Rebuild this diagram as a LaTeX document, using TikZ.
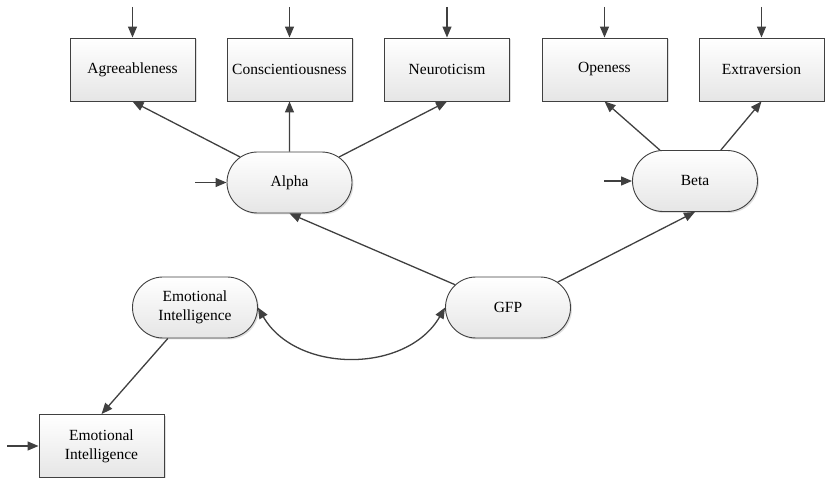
\documentclass[tikz,border=0pt]{standalone}
\usepackage{fontspec}
\setmainfont{Liberation Serif}
\usetikzlibrary{arrows.meta,shapes.misc,shadows}

\tikzset{
	trait/.style={draw=black!75, line width=0.9pt, rectangle, minimum width=125pt, minimum height=63pt,
		inner sep=0pt, align=center, top color=white, bottom color=black!10,
		drop shadow={shadow xshift=1.5pt, shadow yshift=-1.5pt, fill=black!25},
		font=\fontsize{15.5}{19}\selectfont},
	factor/.style={trait, rounded rectangle, minimum height=61pt},
	link/.style={draw=black!75, line width=1.3pt, -{Triangle[length=11pt,width=9pt]}},
	twoway/.style={link, {Triangle[length=11pt,width=9pt]}-{Triangle[length=11pt,width=9pt]}}
}

\begin{document}
\begin{tikzpicture}[x=1pt, y=-1pt]
			%%%%% START %%%%%
			
			\useasboundingbox (0, 0) rectangle (825, 478);
			
			\node[trait] (agree) at (132.5, 69.5) {Agreeableness};
			\node[trait] (consc) at (289.5, 69.5) {Conscientiousness};
			\node[trait] (neuro) at (447, 69.5) {Neuroticism};
			\node[trait] (open) at (604.5, 69.5) {Openess};
			\node[trait] (extra) at (761.5, 69.5) {Extraversion};
			
			\node[factor] (alpha) at (289.5, 182.5) {Alpha};
			\node[factor] (beta) at (695, 181) {Beta};
			\node[factor] (gfp) at (508, 307.5) {GFP};
			
			\node[factor] (eio) at (195, 307.5) {Emotional\\Intelligence};
			\node[trait] (eib) at (101.5, 446) {Emotional\\Intelligence};
			
			% error terms
			\coordinate (eagree) at (132.5, 7);
			\coordinate (econsc) at (289.5, 7);
			\coordinate (eneuro) at (447, 7);
			\coordinate (eopen) at (604.5, 7);
			\coordinate (eextra) at (761.5, 7);
			\coordinate (ealpha) at (195, 182.5);
			\coordinate (ebeta) at (604, 181);
			\coordinate (eeib) at (7, 446);
			
			\draw[link] (eagree) -- (agree);
			\draw[link] (econsc) -- (consc);
			\draw[link] (eneuro) -- (neuro);
			\draw[link] (eopen) -- (open);
			\draw[link] (eextra) -- (extra);
			\draw[link] (ealpha) -- (alpha);
			\draw[link] (ebeta) -- (beta);
			\draw[link] (eeib) -- (eib);
			
			% loadings
			\draw[link] (alpha) -- (agree.south);
			\draw[link] (alpha) -- (consc);
			\draw[link] (alpha) -- (neuro.south);
			\draw[link] (beta) -- (open.south);
			\draw[link] (beta) -- (extra.south);
			\draw[link] (gfp) -- (alpha.south);
			\draw[link] (gfp) -- (beta.south);
			\draw[link] (eio) -- (eib.north);
			
			\draw[twoway] (eio.east) to[out=-60, in=-120, looseness=1.05] (gfp.west);
			
			%%%%% END %%%%%
\end{tikzpicture}
\end{document}
